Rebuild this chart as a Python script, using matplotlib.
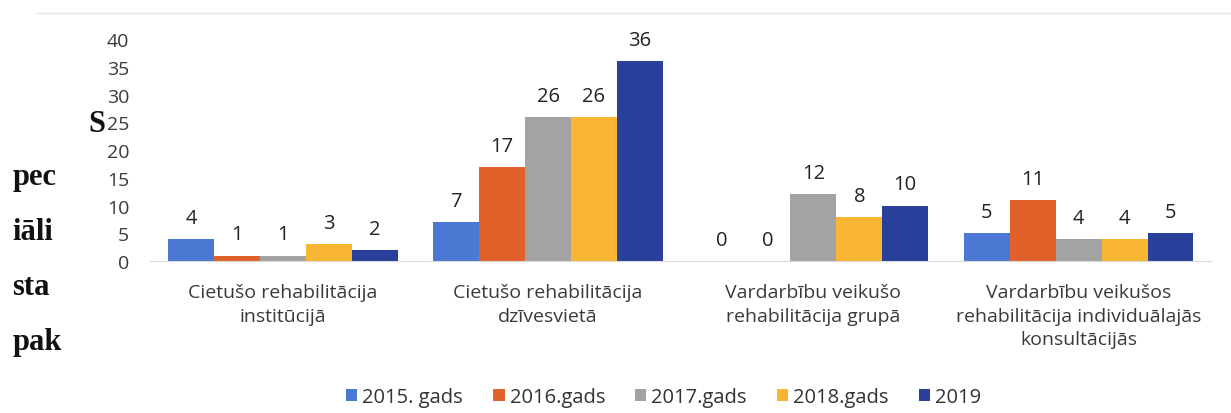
import numpy as np
import matplotlib.pyplot as plt
from matplotlib.lines import Line2D

plt.rcParams['font.family'] = ['Open Sans', 'DejaVu Sans']

categories = ['Cietušo rehabilitācija\ninstitūcijā',
              'Cietušo rehabilitācija\ndzīvesvietā',
              'Vardarbību veikušo\nrehabilitācija grupā',
              'Vardarbību veikušos\nrehabilitācija individuālajās\nkonsultācijās']
series_names = ['2015. gads', '2016.gads', '2017.gads', '2018.gads', '2019']
v2015 = [4, 7, 0, 5]
v2016 = [1, 17, 0, 11]
v2017 = [1, 26, 12, 4]
v2018 = [3, 26, 8, 4]
v2019 = [2, 36, 10, 5]
values = [v2015, v2016, v2017, v2018, v2019]
colors = ['#4a78d2', '#e0622a', '#a3a3a3', '#f8b632', '#293f9c']

fig = plt.figure(figsize=(12.31, 4.14), dpi=100)
ax = fig.add_axes([0.122, 0.367, 0.862, 0.536])

x = np.arange(len(categories))
w = 0.173
for i, (name, vals, c) in enumerate(zip(series_names, values, colors)):
    pos = x + (i - 2) * w
    bars = ax.bar(pos, vals, w, color=c, label=name)
    ax.bar_label(bars, labels=[str(v) for v in vals], padding=8, fontsize=14.5, color='#222222')

ax.set_ylim(0, 40)
ax.set_xlim(-0.5, len(categories) - 0.5)
ax.set_yticks(range(0, 41, 5))
ax.set_xticks(x)
ax.set_xticklabels(categories, fontsize=14, color='#3a3a3a', linespacing=1.4)
ax.tick_params(axis='both', length=0, colors='#3a3a3a')
ax.tick_params(axis='y', labelsize=14, pad=15)
ax.tick_params(axis='x', pad=16)
for s in ['top', 'right', 'left']:
    ax.spines[s].set_visible(False)
ax.spines['bottom'].set_color('#d9d9d9')

ax.legend(loc='center', bbox_to_anchor=(0.484, -0.612), ncol=5, frameon=False,
          fontsize=14.5, handlelength=0.55, handleheight=0.55, handletextpad=0.25,
          columnspacing=1.5, labelcolor='#333333')

# scanned vertical axis title fragments
for txt, xx, yy in [('S', 0.0715, 0.68), ('pec', 0.010, 0.553), ('iāli', 0.010, 0.42),
                    ('sta', 0.010, 0.287), ('pak', 0.010, 0.155)]:
    fig.text(xx, yy, txt, family='Liberation Serif', weight='bold', fontsize=22,
             ha='left', va='baseline', color='#111111')

fig.add_artist(Line2D([0.03, 1.0], [0.966, 0.966], color='#e3e3e3', lw=1,
                      transform=fig.transFigure))

fig.savefig('out.png', dpi=100)
